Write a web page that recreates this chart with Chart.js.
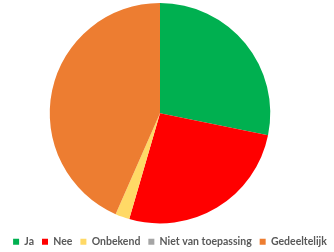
<!DOCTYPE html>
<html>
<head>
<meta charset="utf-8">
<script src="https://cdn.jsdelivr.net/npm/chart.js@4/dist/chart.umd.min.js"></script>
<style>
  html, body { margin: 0; padding: 0; background: #fff; }
  #wrap { width: 334px; height: 252px; position: relative; }
</style>
</head>
<body>
<div id="wrap"><canvas id="chart"></canvas></div>
<script>
const categories = ['Ja', 'Nee', 'Onbekend', 'Niet van toepassing', 'Gedeeltelijk'];
const values = [28.2, 26.3, 2.1, 0, 43.4];
const colors = ['#00B050', '#FF0000', '#FFD966', '#A5A5A5', '#ED7D31'];

// nudge the pie a bit left and the legend a bit lower, like the original
const nudge = {
    id: 'nudge',
    afterLayout(chart) {
        chart.chartArea.right -= 14;
        const lg = chart.legend;
        lg.left += 3;
        lg.right += 3;
        lg.top += 5;
        lg.bottom += 5;
    }
};

const ctx = document.getElementById('chart').getContext('2d');
new Chart(ctx, {
    type: 'pie',
    data: {
        labels: categories,
        datasets: [{
            data: values,
            backgroundColor: colors,
            borderWidth: 0
        }]
    },
    options: {
        responsive: true,
        maintainAspectRatio: false,
        animation: false,
        layout: { padding: { top: 3, bottom: 0, left: 0, right: 0 } },
        plugins: {
            legend: {
                position: 'bottom',
                labels: {
                    boxWidth: 6,
                    boxHeight: 6,
                    padding: 8,
                    color: '#595959',
                    font: { family: 'Lato', size: 10.5, weight: 'bold' }
                }
            },
            tooltip: { enabled: false }
        }
    },
    plugins: [nudge]
});
</script>
</body>
</html>
